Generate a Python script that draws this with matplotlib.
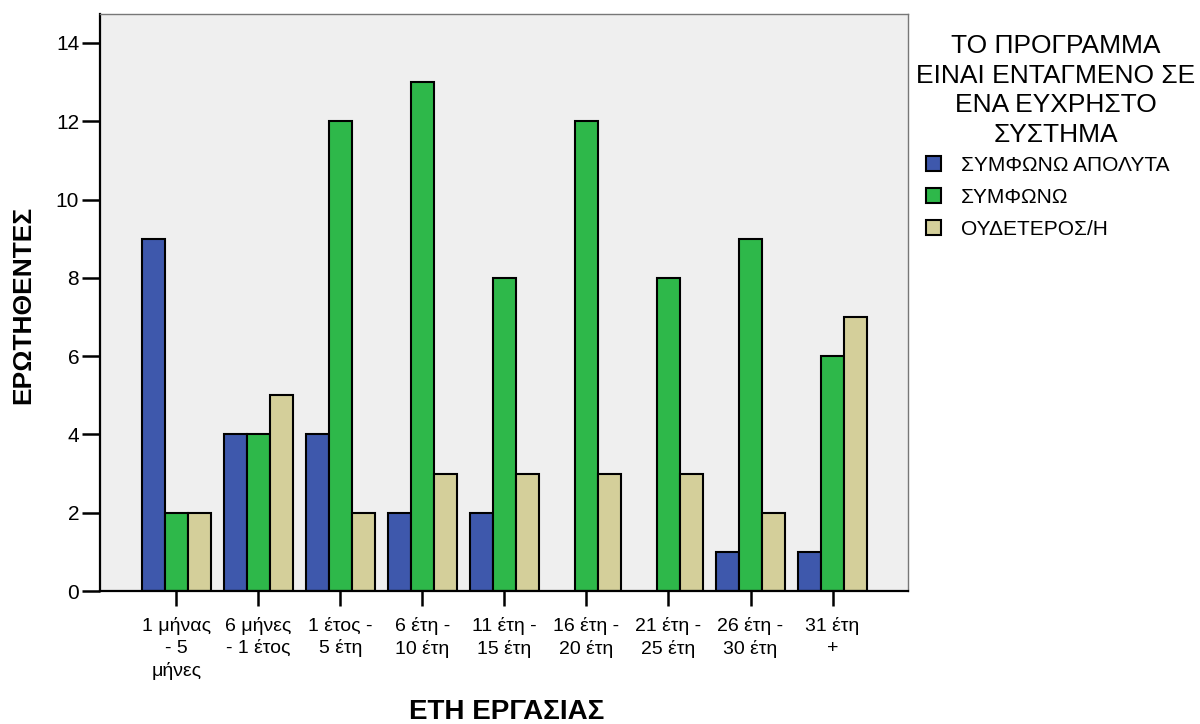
import numpy as np
import matplotlib
matplotlib.use("Agg")
import matplotlib.pyplot as plt

plt.rcParams['font.family'] = ['Liberation Sans', 'DejaVu Sans']

groups = ["1 μήνας\n- 5\nμήνες", "6 μήνες\n- 1 έτος", "1 έτος -\n5 έτη",
          "6 έτη -\n10 έτη", "11 έτη -\n15 έτη", "16 έτη -\n20 έτη",
          "21 έτη -\n25 έτη", "26 έτη -\n30 έτη", "31 έτη\n+"]
series_names = ["ΣΥΜΦΩΝΩ ΑΠΟΛΥΤΑ", "ΣΥΜΦΩΝΩ", "ΟΥΔΕΤΕΡΟΣ/Η"]
agree_fully = [9, 4, 4, 2, 2, 0, 0, 1, 1]
agree = [2, 4, 12, 13, 8, 12, 8, 9, 6]
neutral = [2, 5, 2, 3, 3, 3, 3, 2, 7]
colors = ["#3E58AC", "#2EB84A", "#D4CF9A"]
legend_title = "ΤΟ ΠΡΟΓΡΑΜΜΑ\nΕΙΝΑΙ ΕΝΤΑΓΜΕΝΟ ΣΕ\nΕΝΑ ΕΥΧΡΗΣΤΟ\nΣΥΣΤΗΜΑ"

fig = plt.figure(figsize=(12, 7.24), dpi=100)
ax = fig.add_axes([0.0833, 0.1837, 0.6734, 0.7970])
ax.set_facecolor("#EFEFEF")

x = np.arange(len(groups))
w = 0.28
for i, (vals, col, name) in enumerate(zip([agree_fully, agree, neutral], colors, series_names)):
    vals = np.array(vals, dtype=float)
    keep = vals > 0
    ax.bar(x[keep] + (i - 1) * w, vals[keep], width=w, color=col,
           edgecolor="black", linewidth=1.5, label=name)

ax.set_xlim(-0.93, 8.92)
ax.set_ylim(0, 14.74)
ax.set_yticks([0, 2, 4, 6, 8, 10, 12, 14])
ax.set_xticks(x)
ax.set_xticklabels(groups, fontsize=14, linespacing=1.35)
ax.tick_params(axis='y', labelsize=15, length=13, width=1.8, pad=2)
ax.tick_params(axis='x', length=11, width=1.8, pad=8)

for side in ["top", "right"]:
    ax.spines[side].set_color("#777777")
    ax.spines[side].set_linewidth(1.0)
for side in ["left", "bottom"]:
    ax.spines[side].set_color("black")
    ax.spines[side].set_linewidth(1.6)

fig.text(0.019, 0.579, "ΕΡΩΤΗΘΕΝΤΕΣ", rotation=90, fontsize=19,
         fontweight="bold", ha="center", va="center")
fig.text(0.4225, 0.016, "ΕΤΗ ΕΡΓΑΣΙΑΣ", fontsize=20,
         fontweight="bold", ha="center", va="center")

# legend title drawn on its own so the entries can sit further left
fig.text(0.880, 0.953, legend_title, fontsize=19, ha="center", va="top",
         multialignment="center", linespacing=1.3)
ax.legend(fontsize=15, loc="upper left", bbox_to_anchor=(0.7717, 0.785),
          bbox_transform=fig.transFigure, frameon=False,
          handlelength=0.72, handleheight=0.72, handletextpad=0.95,
          labelspacing=0.63, borderpad=0, borderaxespad=0)

fig.savefig("out.png", dpi=100)
